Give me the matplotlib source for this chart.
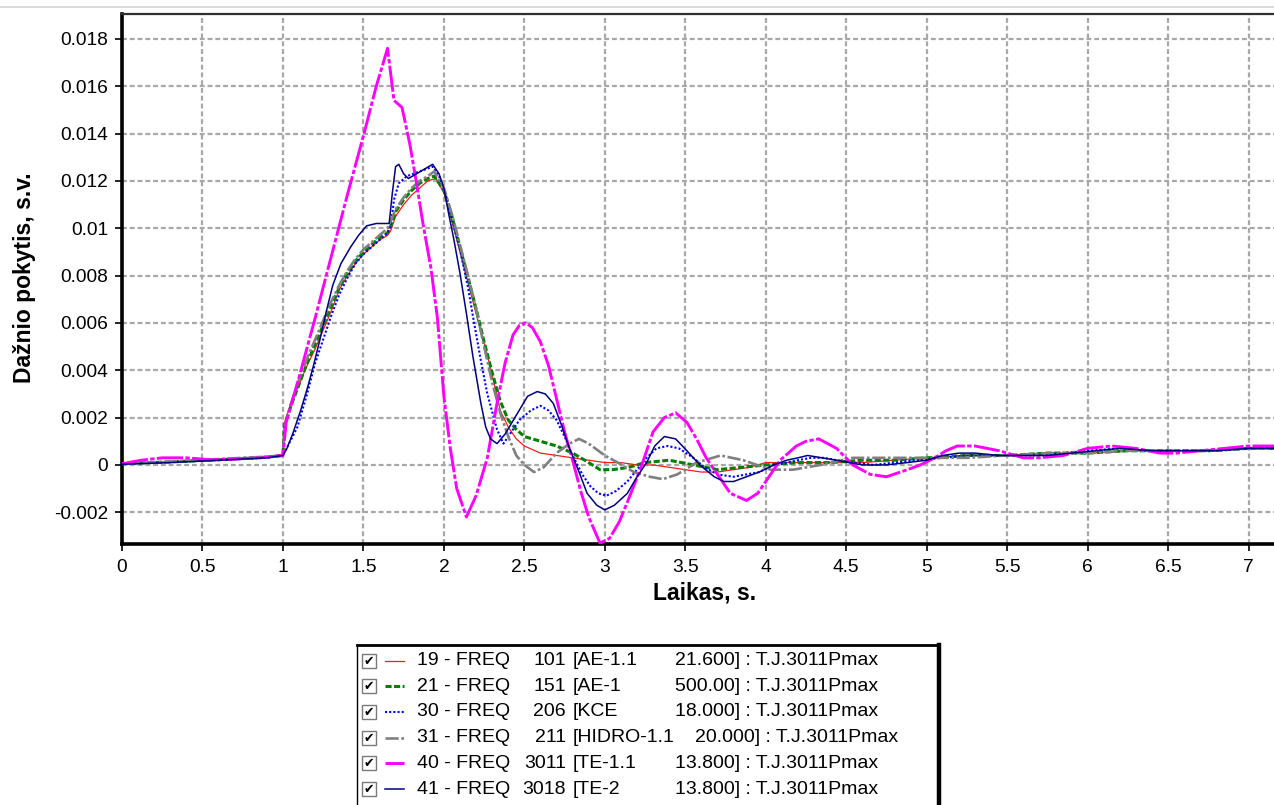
import matplotlib
matplotlib.use("Agg")
import matplotlib.pyplot as plt
from matplotlib.lines import Line2D
from matplotlib.patches import Rectangle
from matplotlib.ticker import FuncFormatter, MultipleLocator

# ---------------------------------------------------------------------------
# Data
# ---------------------------------------------------------------------------

T_19 = [0, 0.3, 0.6, 0.9, 1.0, 1.01, 1.05, 1.1, 1.15, 1.2, 1.25, 1.3, 1.35, 1.4, 1.45,
        1.5, 1.55, 1.6, 1.65, 1.67, 1.7, 1.75, 1.8, 1.85, 1.9, 1.95, 2.0, 2.05, 2.1, 2.15,
        2.2, 2.25, 2.3, 2.35, 2.4, 2.45, 2.5, 2.6, 2.7, 2.8, 2.9, 3.0, 3.1, 3.2, 3.3,
        3.4, 3.5, 3.6, 3.7, 3.8, 3.9, 4.0, 4.2, 4.4, 4.6, 4.8, 5.0, 5.25, 5.5, 5.75,
        6.0, 6.25, 6.5, 6.75, 7.0, 7.16]
V_19 = [0.00005, 0.00013, 0.00022, 0.00033, 0.0004, 0.0018, 0.0026, 0.0034, 0.0042, 0.0049,
        0.0057, 0.0065, 0.0074, 0.0080, 0.0085, 0.0089, 0.0092, 0.0095, 0.0097, 0.0099,
        0.0105, 0.0110, 0.0114, 0.0117, 0.0120, 0.0121, 0.0115, 0.0103, 0.0090, 0.0077,
        0.0064, 0.0052, 0.0038, 0.0023, 0.0016, 0.0011, 0.0008, 0.0005, 0.0004, 0.0003,
        0.0002, 0.0001, 0.0001, 0.0000, 0.0000, -0.0001, -0.0002, -0.0003, -0.0003, -0.0002,
        -0.0001, 0.0001, 0.0001, 0.0001, 0.0001, 0.0002, 0.0003, 0.0004, 0.0004, 0.0005,
        0.0005, 0.0006, 0.0006, 0.0006, 0.0007, 0.0007]

T_21 = [0, 0.3, 0.6, 0.9, 1.0, 1.01, 1.05, 1.1, 1.15, 1.2, 1.25, 1.3, 1.35, 1.4, 1.45,
        1.5, 1.55, 1.6, 1.65, 1.67, 1.7, 1.75, 1.8, 1.85, 1.9, 1.94, 2.0, 2.05, 2.1, 2.15,
        2.2, 2.25, 2.3, 2.35, 2.4, 2.45, 2.5, 2.6, 2.7, 2.8, 2.9, 2.97, 3.05, 3.15, 3.25,
        3.4, 3.55, 3.7, 3.85, 4.0, 4.2, 4.4, 4.6, 4.8, 5.0, 5.25, 5.5, 5.75, 6.0, 6.25,
        6.5, 6.75, 7.0, 7.16]
V_21 = [0.00005, 0.00013, 0.00022, 0.00033, 0.0004, 0.0017, 0.0025, 0.0034, 0.0043, 0.0051,
        0.0059, 0.0067, 0.0075, 0.0081, 0.0086, 0.0090, 0.0093, 0.0096, 0.0098, 0.0101,
        0.0107, 0.0112, 0.0116, 0.0119, 0.0121, 0.0122, 0.0116, 0.0105, 0.0092, 0.0079,
        0.0066, 0.0052, 0.0039, 0.0027, 0.0019, 0.0015, 0.0012, 0.0010, 0.0008, 0.0005,
        0.0001, -0.0002, -0.0002, -0.0001, 0.0001, 0.0002, 0.0000, -0.0002, -0.0001, 0.0000,
        0.0001, 0.0001, 0.0002, 0.0002, 0.0003, 0.0004, 0.0004, 0.0005, 0.0005, 0.0006,
        0.0006, 0.0006, 0.0007, 0.0007]

T_30 = [0, 0.3, 0.6, 0.9, 1.0, 1.03, 1.09, 1.15, 1.2, 1.25, 1.3, 1.35, 1.4, 1.45, 1.5,
        1.55, 1.6, 1.65, 1.67, 1.69, 1.72, 1.77, 1.85, 1.93, 1.97, 2.01, 2.05, 2.1, 2.15, 2.18,
        2.23, 2.27, 2.33, 2.37, 2.42, 2.47, 2.54, 2.6, 2.65, 2.7, 2.75, 2.8, 2.86, 2.91, 2.96,
        3.01, 3.07, 3.14, 3.2, 3.26, 3.32, 3.39, 3.46, 3.55, 3.62, 3.7, 3.8, 3.88, 3.96, 4.05,
        4.13, 4.2, 4.28, 4.36, 4.44, 4.55, 4.67, 4.8, 4.95, 5.1, 5.25, 5.4, 5.55, 5.7, 5.85,
        6.0, 6.2, 6.4, 6.6, 6.8, 7.0, 7.16]
V_30 = [0.00005, 0.00012, 0.0002, 0.0003, 0.0004, 0.0008, 0.0016, 0.0030, 0.0043, 0.0053,
        0.0063, 0.0072, 0.0079, 0.0085, 0.0089, 0.0092, 0.0095, 0.0098, 0.0101, 0.0112,
        0.0119, 0.0122, 0.0124, 0.0126, 0.0122, 0.0114, 0.0104, 0.0091, 0.0075, 0.0063,
        0.0044, 0.0030, 0.0015, 0.0009, 0.0014, 0.0019, 0.0023, 0.0025, 0.0023, 0.0019,
        0.0012, 0.0004, -0.0004, -0.0009, -0.0012, -0.0013, -0.0011, -0.0007, -0.0002, 0.0003,
        0.0007, 0.0008, 0.0007, 0.0003, -0.0001, -0.0004, -0.0005, -0.0004, -0.0003, 0.0000,
        0.0001, 0.0002, 0.0003, 0.0003, 0.0002, 0.0001, 0.0000, 0.0001, 0.0002, 0.0003,
        0.0004, 0.0004, 0.0004, 0.0004, 0.0005, 0.0006, 0.0007, 0.0006, 0.0006, 0.0006,
        0.0007, 0.0007]

T_31 = [0, 0.3, 0.6, 0.75, 0.9, 1.0, 1.01, 1.05, 1.1, 1.15, 1.2, 1.25, 1.3, 1.35, 1.4,
        1.45, 1.5, 1.55, 1.6, 1.65, 1.67, 1.7, 1.75, 1.8, 1.85, 1.9, 1.94, 2.0, 2.05, 2.1,
        2.15, 2.2, 2.25, 2.3, 2.35, 2.4, 2.45, 2.5, 2.56, 2.62, 2.7, 2.78, 2.84, 2.9, 3.0,
        3.08, 3.18, 3.28, 3.36, 3.45, 3.57, 3.72, 3.86, 4.03, 4.17, 4.34, 4.54, 4.8, 5.0, 5.25,
        5.5, 5.75, 6.0, 6.25, 6.5, 6.75, 7.0, 7.16]
V_31 = [0.00005, 0.00014, 0.00025, 0.0003, 0.00035, 0.0004, 0.0016, 0.0026, 0.0036, 0.0045,
        0.0053, 0.0061, 0.0069, 0.0076, 0.0082, 0.0087, 0.0091, 0.0094, 0.0097, 0.0100,
        0.0103, 0.0108, 0.0113, 0.0117, 0.0120, 0.0122, 0.0124, 0.0117, 0.0106, 0.0093,
        0.0080, 0.0066, 0.0050, 0.0035, 0.0022, 0.0012, 0.0004, 0.0000, -0.0003, -0.0001,
        0.0005, 0.0009, 0.0011, 0.0009, 0.0004, 0.0001, -0.0003, -0.0005, -0.0006, -0.0004,
        0.0001, 0.0004, 0.0002, -0.0002, -0.0002, 0.0000, 0.0003, 0.0003, 0.0003, 0.0003,
        0.0004, 0.0005, 0.0005, 0.0006, 0.0006, 0.0006, 0.0007, 0.0007]

T_40 = [0, 0.12, 0.25, 0.4, 0.55, 0.7, 0.85, 1.0, 1.02, 1.1, 1.2, 1.3, 1.4, 1.5, 1.58,
        1.65, 1.69, 1.74, 1.79, 1.83, 1.87, 1.92, 1.96, 2.0, 2.04, 2.08, 2.14, 2.2, 2.27, 2.33,
        2.38, 2.43, 2.47, 2.51, 2.55, 2.6, 2.65, 2.7, 2.75, 2.8, 2.85, 2.9, 2.97, 3.03, 3.09,
        3.15, 3.22, 3.3, 3.37, 3.44, 3.51, 3.57, 3.63, 3.7, 3.78, 3.88, 3.95, 4.02, 4.09, 4.19,
        4.25, 4.33, 4.44, 4.54, 4.65, 4.75, 4.88, 4.96, 5.05, 5.12, 5.19, 5.3, 5.45, 5.6, 5.7,
        5.85, 6.0, 6.15, 6.3, 6.45, 6.55, 6.7, 6.85, 7.0, 7.16]
V_40 = [0.00005, 0.0002, 0.0003, 0.0003, 0.00022, 0.00025, 0.0003, 0.0004, 0.0018, 0.0037,
        0.0062, 0.0088, 0.0114, 0.0139, 0.0160, 0.0176, 0.0154, 0.0151, 0.0135, 0.0119,
        0.0102, 0.0083, 0.0062, 0.0029, 0.0007, -0.0010, -0.0022, -0.0013, 0.0003, 0.0026,
        0.0043, 0.0055, 0.0059, 0.0060, 0.0058, 0.0052, 0.0042, 0.0028, 0.0014, 0.0002,
        -0.0011, -0.0022, -0.0033, -0.0031, -0.0024, -0.0014, -0.0002, 0.0014, 0.0020, 0.0022,
        0.0018, 0.0011, 0.0003, -0.0004, -0.0012, -0.0015, -0.0012, -0.0005, 0.0002, 0.0008,
        0.0010, 0.0011, 0.0007, 0.0000, -0.0004, -0.0005, -0.0002, 0.0000, 0.0003, 0.0006,
        0.0008, 0.0008, 0.0006, 0.0003, 0.0003, 0.0004, 0.0007, 0.0008, 0.0007, 0.0005,
        0.0005, 0.0006, 0.0007, 0.0008, 0.0008]

T_41 = [0, 0.3, 0.6, 0.9, 1.0, 1.025, 1.06, 1.11, 1.15, 1.19, 1.23, 1.27, 1.31, 1.36, 1.42,
        1.47, 1.52, 1.58, 1.66, 1.68, 1.7, 1.72, 1.75, 1.78, 1.83, 1.88, 1.93, 1.97, 2.0, 2.03,
        2.06, 2.1, 2.14, 2.18, 2.23, 2.26, 2.29, 2.33, 2.38, 2.45, 2.52, 2.58, 2.63, 2.68, 2.73,
        2.78, 2.84, 2.89, 2.95, 3.0, 3.06, 3.14, 3.2, 3.26, 3.31, 3.37, 3.44, 3.51, 3.59, 3.68,
        3.74, 3.8, 3.88, 3.96, 4.05, 4.13, 4.2, 4.26, 4.35, 4.44, 4.52, 4.6, 4.75, 4.88, 5.0,
        5.1, 5.2, 5.3, 5.45, 5.6, 5.75, 5.9, 6.05, 6.2, 6.4, 6.6, 6.8, 7.0, 7.16]
V_41 = [0.00003, 0.0001, 0.0002, 0.0003, 0.0004, 0.0007, 0.0013, 0.0023, 0.0032, 0.0042,
        0.0053, 0.0065, 0.0076, 0.0085, 0.0092, 0.0097, 0.0101, 0.0102, 0.0102, 0.0115,
        0.0126, 0.0127, 0.0123, 0.0121, 0.0123, 0.0125, 0.0127, 0.0123, 0.0117, 0.0106,
        0.0096, 0.0081, 0.0064, 0.0046, 0.0026, 0.0016, 0.0011, 0.0009, 0.0013, 0.0021,
        0.0029, 0.0031, 0.0030, 0.0026, 0.0017, 0.0007, -0.0003, -0.0012, -0.0017, -0.0019,
        -0.0017, -0.0012, -0.0005, 0.0001, 0.0008, 0.0012, 0.0011, 0.0006, 0.0000, -0.0005,
        -0.0007, -0.0007, -0.0005, -0.0003, 0.0000, 0.0002, 0.0003, 0.0004, 0.0003, 0.0002,
        0.0001, 0.0000, 0.0000, 0.0001, 0.0002, 0.0004, 0.0005, 0.0005, 0.0004, 0.0004,
        0.0004, 0.0005, 0.0006, 0.0007, 0.0006, 0.0006, 0.0006, 0.0007, 0.0007]

SERIES_IDS = [19, 21, 30, 31, 40, 41]
BUS_NUMS   = [101, 151, 206, 211, 3011, 3018]
BUS_NAMES  = ["AE-1.1", "AE-1", "KCE", "HIDRO-1.1", "TE-1.1", "TE-2"]
BUS_KV     = ["21.600", "500.00", "18.000", "20.000", "13.800", "13.800"]
CASE_NAME  = "T.J.3011Pmax"

SERIES_T = [T_19, T_21, T_30, T_31, T_40, T_41]
SERIES_V = [V_19, V_21, V_30, V_31, V_40, V_41]

# line styles: (color, linewidth, linestyle)
STYLES = [
    ("#ff1a1a", 0.9, "-"),
    ("#008000", 2.2, (0, (2, 0.8))),
    ("#0000ff", 1.5, (0, (1, 1))),
    ("#808080", 1.9, (0, (5, 1, 1, 1))),
    ("#ff00ff", 2.1, (0, (9, 0.8, 1.5, 0.8))),
    ("#000080", 1.1, "-"),
]

FONT = ["Liberation Sans", "DejaVu Sans"]
W, H = 1274, 805

plt.rcParams["font.family"] = FONT
plt.rcParams["axes.unicode_minus"] = False

# ---------------------------------------------------------------------------
# Main plot
# ---------------------------------------------------------------------------

fig = plt.figure(figsize=(W / 100, H / 100), dpi=100)
fig.patch.set_facecolor("white")

ax_l, ax_r, ax_t, ax_b = 122, 1274, 14, 544
ax = fig.add_axes([ax_l / W, 1 - ax_b / H, (ax_r - ax_l) / W, (ax_b - ax_t) / H])

for t, v, (color, lw, ls) in zip(SERIES_T, SERIES_V, STYLES):
    ax.plot(t, v, color=color, lw=lw, linestyle=ls, zorder=3)

ax.set_xlim(0, 7.158)
ax.set_ylim(-0.00334, 0.01905)
ax.xaxis.set_major_locator(MultipleLocator(0.5))
ax.yaxis.set_major_locator(MultipleLocator(0.002))
ax.xaxis.set_major_formatter(FuncFormatter(lambda x, _: f"{x:g}"))
ax.yaxis.set_major_formatter(FuncFormatter(lambda y, _: f"{round(y, 4):g}"))
ax.tick_params(labelsize=13.8, length=5, width=1.2, pad=5, colors="black")
ax.tick_params(axis="x", pad=6)

ax.grid(True, color="#a8a8a8", linestyle=(0, (2.2, 1.3)), lw=1.6, zorder=1)
ax.set_axisbelow(True)

ax.spines["left"].set_linewidth(2.6)
ax.spines["bottom"].set_linewidth(2.6)
ax.spines["top"].set_linewidth(1.6)
ax.spines["top"].set_color("#303030")
ax.spines["right"].set_visible(False)

fig.text(705 / W, 1 - 593 / H, "Laikas, s.", fontsize=16.5, fontweight="bold",
         ha="center", va="center")
fig.text(25 / W, 1 - 278 / H, "Dažnio pokytis, s.v.", fontsize=16.5, fontweight="bold",
         ha="center", va="center", rotation=90)

# window border at the very top
fig.add_artist(Line2D([0, 1], [1 - 7 / H, 1 - 7 / H], color="#d4d4d4", lw=1.2))

# ---------------------------------------------------------------------------
# Legend box (drawn by hand, pixel coordinates inside the box)
# ---------------------------------------------------------------------------

bx0, by0, bx1, by1 = 357, 645, 939, 805
lax = fig.add_axes([bx0 / W, 1 - by1 / H, (bx1 - bx0) / W, (by1 - by0) / H])
lax.set_xlim(0, bx1 - bx0)
lax.set_ylim(by1 - by0, 0)
lax.set_xticks([])
lax.set_yticks([])
lax.spines["bottom"].set_visible(False)
lax.spines["left"].set_linewidth(1.0)
lax.spines["top"].set_linewidth(2.0)
lax.spines["right"].set_linewidth(3.2)

fig.canvas.draw()
renderer = fig.canvas.get_renderer()

for i, (sid, num, name, kv) in enumerate(zip(SERIES_IDS, BUS_NUMS, BUS_NAMES, BUS_KV)):
    y = 15.5 + i * 25.7
    color, lw, ls = STYLES[i]

    lax.add_patch(Rectangle((5, y - 7), 14, 14, facecolor="white", edgecolor="#7a7a7a", lw=1.0))
    lax.text(12, y + 0.5, "✔", fontsize=9, family="DejaVu Sans", ha="center", va="center")
    lax.plot([28, 47], [y, y], color=color, lw=lw, linestyle=ls)

    lax.text(60, y, f"{sid} - FREQ", fontsize=14, ha="left", va="center")
    lax.text(209, y, f"{num}", fontsize=14, ha="right", va="center")
    name_txt = lax.text(216, y, f"[{name}", fontsize=14, ha="left", va="center")

    bb = name_txt.get_window_extent(renderer)
    name_end = bb.x1 / fig.dpi * 100 - bx0
    kv_x = max(318, name_end + 20)
    lax.text(kv_x, y, f"{kv}] : {CASE_NAME}", fontsize=14, ha="left", va="center")

fig.savefig("out.png", dpi=100)
